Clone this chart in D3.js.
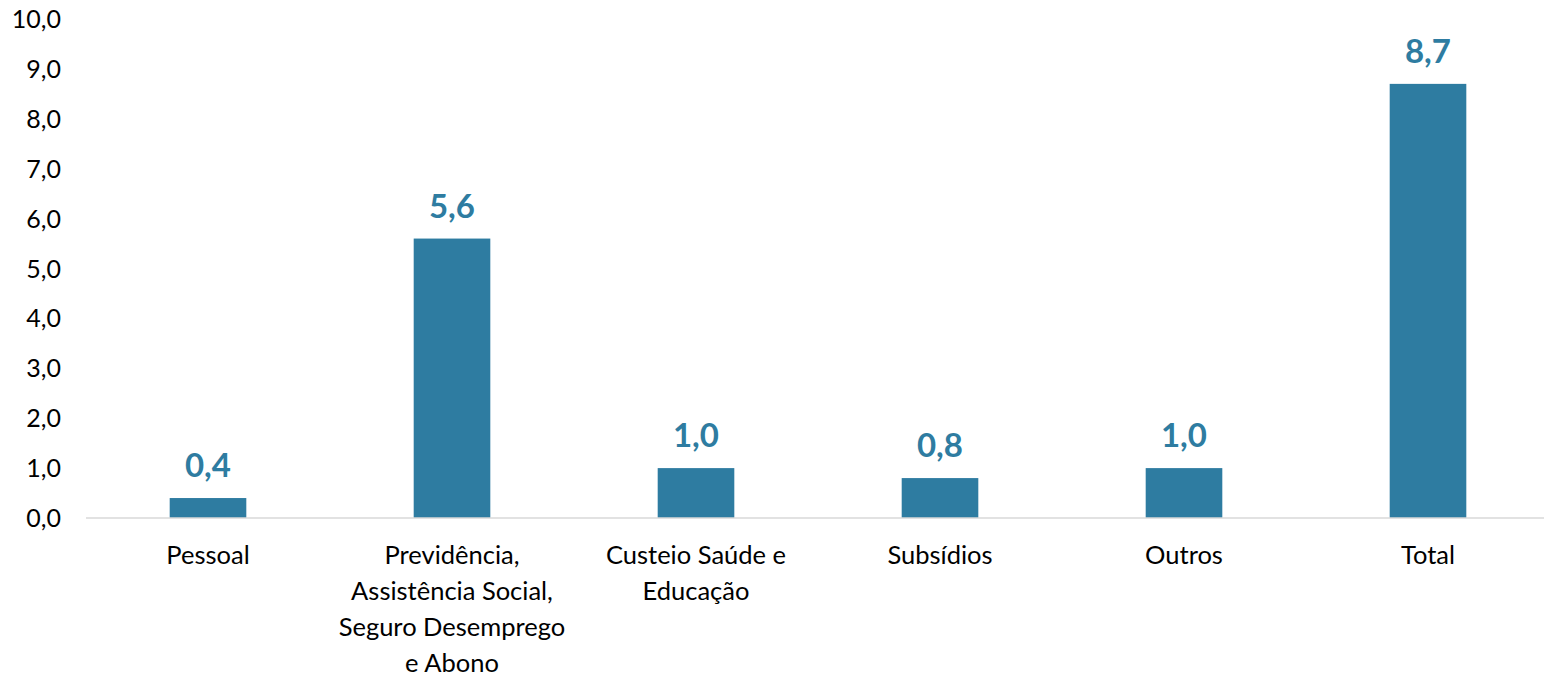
<!DOCTYPE html>
<html lang="pt">
  <head>
    <meta charset="utf-8">
    <title>Despesas</title>
    <style>
      body { margin: 0; background: #fff; }
      .chart text { font-family: Lato, "Open Sans", sans-serif; }
    </style>
  </head>
  <body>
    <div class="chart"></div>
    <script src="https://cdn.jsdelivr.net/npm/d3@7"></script>
    <script type="text/javascript">
      // data
      var categories = ["Pessoal", "Previdência, Assistência Social, Seguro Desemprego e Abono",
                        "Custeio Saúde e Educação", "Subsídios", "Outros", "Total"];
      var categoryLines = [
        ["Pessoal"],
        ["Previdência,", "Assistência Social,", "Seguro Desemprego", "e Abono"],
        ["Custeio Saúde e", "Educação"],
        ["Subsídios"],
        ["Outros"],
        ["Total"]
      ];
      var values = [0.4, 5.6, 1.0, 0.8, 1.0, 8.7];
      var yTicks = [0, 1, 2, 3, 4, 5, 6, 7, 8, 9, 10];

      var width = 1544, height = 676;
      var barColor = "#2e7ca1";

      var fmt = function(v) { return d3.format(".1f")(v).replace(".", ","); };

      var svg = d3.select(".chart")
        .append("svg")
          .attr("width", width)
          .attr("height", height);

      var x = d3.scaleBand()
          .domain(categories)
          .range([86, 1550])
          .paddingInner(0.686)
          .paddingOuter(0.343);

      var y = d3.scaleLinear()
          .domain([0, 10])
          .range([518, 19]);

      // y tick labels (no axis line, no gridlines)
      svg.append("g")
          .selectAll("text")
          .data(yTicks)
          .enter().append("text")
          .attr("x", 61)
          .attr("y", function(d) { return y(d); })
          .attr("dy", "0.36em")
          .attr("text-anchor", "end")
          .attr("font-size", 25)
          .attr("fill", "#000")
          .text(fmt);

      // bars
      svg.append("g")
          .selectAll("rect")
          .data(values)
          .enter().append("rect")
          .attr("x", function(d, i) { return x(categories[i]); })
          .attr("width", x.bandwidth())
          .attr("y", function(d) { return y(d); })
          .attr("height", function(d) { return y(0) - y(d); })
          .attr("fill", barColor);

      // baseline
      svg.append("line")
          .attr("x1", 86).attr("x2", width)
          .attr("y1", y(0)).attr("y2", y(0))
          .attr("stroke", "#d9d9d9")
          .attr("stroke-width", 1.5);

      // value labels
      svg.append("g")
          .selectAll("text")
          .data(values)
          .enter().append("text")
          .attr("x", function(d, i) { return x(categories[i]) + x.bandwidth() / 2; })
          .attr("y", function(d) { return y(d) - 21; })
          .attr("text-anchor", "middle")
          .attr("font-size", 33)
          .attr("font-weight", "bold")
          .attr("fill", barColor)
          .text(fmt);

      // category labels
      var cat = svg.append("g")
          .selectAll("text")
          .data(categories)
          .enter().append("text")
          .attr("x", function(d) { return x(d) + x.bandwidth() / 2; })
          .attr("y", 564)
          .attr("text-anchor", "middle")
          .attr("font-size", 25.5)
          .attr("fill", "#000");

      cat.selectAll("tspan")
          .data(function(d, i) { return categoryLines[i]; })
          .enter().append("tspan")
          .attr("x", function() { return d3.select(this.parentNode).attr("x"); })
          .attr("dy", function(d, i) { return i === 0 ? 0 : 36; })
          .text(function(d) { return d; });
    </script>
  </body>
</html>
